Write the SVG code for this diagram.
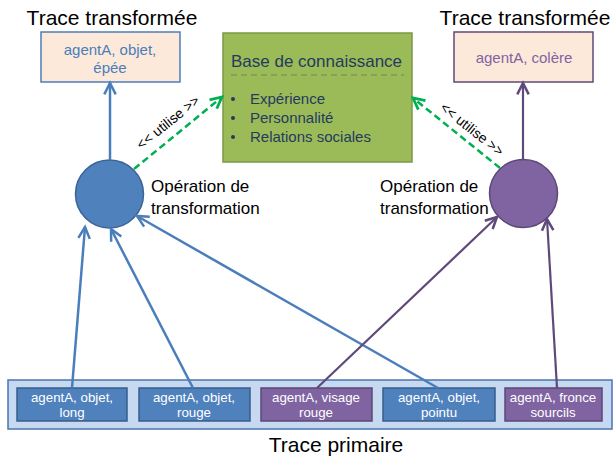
<svg xmlns="http://www.w3.org/2000/svg" width="613" height="457" viewBox="0 0 613 457">
<style>
text{font-family:"Liberation Sans",Arial,sans-serif}
.title{font-size:21px;fill:#000}
.blab{font-size:13.3px;fill:#fff;text-anchor:middle}
.op{font-size:17px;fill:#000}
.ut{font-size:14px;fill:#000;text-anchor:middle}
.kb{font-size:15px;fill:#253a5e}
.bl{fill:none;stroke:#4a7ebb;stroke-width:2.5}
.pl{fill:none;stroke:#5f497a;stroke-width:2.2}
.gl{fill:none;stroke:#00b050;stroke-width:2.5;stroke-dasharray:7,4}
</style>
<defs>
<marker id="ab" markerUnits="userSpaceOnUse" markerWidth="16" markerHeight="16" refX="11" refY="6" orient="auto" viewBox="0 0 14 12"><path d="M1,1 L11,6 L1,11" fill="none" stroke="#4a7ebb" stroke-width="2.2"/></marker>
<marker id="ap" markerUnits="userSpaceOnUse" markerWidth="16" markerHeight="16" refX="11" refY="6" orient="auto" viewBox="0 0 14 12"><path d="M1,1 L11,6 L1,11" fill="none" stroke="#5f497a" stroke-width="2.2"/></marker>
<marker id="ag" markerUnits="userSpaceOnUse" markerWidth="16" markerHeight="16" refX="11" refY="6" orient="auto" viewBox="0 0 14 12"><path d="M1,1 L11,6 L1,11" fill="none" stroke="#00b050" stroke-width="2.4"/></marker>
</defs>

<g id="trace-primaire">
<rect x="8" y="380" width="604" height="49" fill="#c6d9f1" stroke="#4a75b0" stroke-width="1.5"/>
<text class="title" x="336" y="452" text-anchor="middle" font-size="20">Trace primaire</text>
</g>
<g id="p1"><rect x="17" y="388" width="110" height="33" fill="#4f81bd" stroke="#385d8a" stroke-width="1.5"/><text class="blab" x="72" y="402">agentA, objet,</text><text class="blab" x="72" y="417">long</text></g>
<g id="p2"><rect x="139" y="388" width="111" height="33" fill="#4f81bd" stroke="#385d8a" stroke-width="1.5"/><text class="blab" x="194" y="402">agentA, objet,</text><text class="blab" x="194" y="417">rouge</text></g>
<g id="p3"><rect x="261" y="388" width="111" height="33" fill="#8064a2" stroke="#5c4776" stroke-width="1.5"/><text class="blab" x="316" y="402">agentA, visage</text><text class="blab" x="316" y="417">rouge</text></g>
<g id="p4"><rect x="383" y="388" width="112" height="33" fill="#4f81bd" stroke="#385d8a" stroke-width="1.5"/><text class="blab" x="439" y="402">agentA, objet,</text><text class="blab" x="439" y="417">pointu</text></g>
<g id="p5"><rect x="505" y="388" width="97" height="33" fill="#8064a2" stroke="#5c4776" stroke-width="1.5"/><text class="blab" x="553" y="402">agentA, fronce</text><text class="blab" x="553" y="417">sourcils</text></g>

<g id="t1">
<text class="title" x="112" y="25" text-anchor="middle">Trace transformée</text>
<rect x="41" y="32" width="139" height="50" fill="#fde9d9" stroke="#4a7ebb" stroke-width="1.5"/>
<text x="110" y="55" font-size="15" fill="#4a7ebb" text-anchor="middle">agentA, objet,</text>
<text x="110" y="73" font-size="15" fill="#4a7ebb" text-anchor="middle">épée</text>
</g>
<g id="t2">
<text class="title" x="525" y="25" text-anchor="middle">Trace transformée</text>
<rect x="454" y="32" width="139" height="50" fill="#fde9d9" stroke="#5f497a" stroke-width="1.5"/>
<text x="524" y="63" font-size="15" fill="#8064a2" text-anchor="middle">agentA, colère</text>
</g>

<g id="kb">
<rect x="223" y="33" width="189" height="129" fill="#9bbb59" stroke="#7a9a45" stroke-width="1.5"/>
<text x="231" y="67" font-size="17" fill="#253a5e">Base de connaissance</text>
<line x1="231" y1="75" x2="404" y2="75" stroke="#738a4a" stroke-width="1" stroke-dasharray="6,4"/>
<circle cx="233" cy="99" r="2" fill="#253a5e"/>
<circle cx="233" cy="118" r="2" fill="#253a5e"/>
<circle cx="233" cy="137" r="2" fill="#253a5e"/>
<text class="kb" x="250" y="104">Expérience</text>
<text class="kb" x="250" y="123">Personnalité</text>
<text class="kb" x="250" y="142">Relations sociales</text>
</g>

<g id="op1">
<circle cx="109.5" cy="194" r="34" fill="#4f81bd" stroke="#3a6398" stroke-width="1.5"/>
<text class="op" x="151" y="192">Opération de</text>
<text class="op" x="151" y="214">transformation</text>
</g>
<g id="op2">
<circle cx="523.5" cy="193.5" r="34" fill="#8064a2" stroke="#5c4776" stroke-width="1.5"/>
<text class="op" x="380" y="192">Opération de</text>
<text class="op" x="380" y="214">transformation</text>
</g>

<g id="connectors">
<line class="bl" x1="110" y1="160" x2="110" y2="83" marker-end="url(#ab)"/>
<line class="pl" x1="523" y1="159" x2="523" y2="83" stroke-width="2.6" marker-end="url(#ap)"/>
<line class="gl" x1="134" y1="169" x2="222" y2="97" marker-end="url(#ag)"/>
<line class="gl" x1="500" y1="168" x2="413" y2="98" marker-end="url(#ag)"/>
<text class="ut" transform="translate(171,126) rotate(-39)">&lt;&lt; utilise &gt;&gt;</text>
<text class="ut" transform="translate(469,133) rotate(38.5)">&lt;&lt; utilise &gt;&gt;</text>
<line class="bl" x1="72" y1="388" x2="85" y2="227" marker-end="url(#ab)"/>
<line class="bl" x1="193" y1="388" x2="111" y2="229" marker-end="url(#ab)"/>
<line class="bl" x1="438" y1="388" x2="137" y2="216" marker-end="url(#ab)"/>
<line class="pl" x1="317" y1="388" x2="497" y2="217" marker-end="url(#ap)"/>
<line class="pl" x1="557" y1="388" x2="547" y2="219" marker-end="url(#ap)"/>
</g>
</svg>
